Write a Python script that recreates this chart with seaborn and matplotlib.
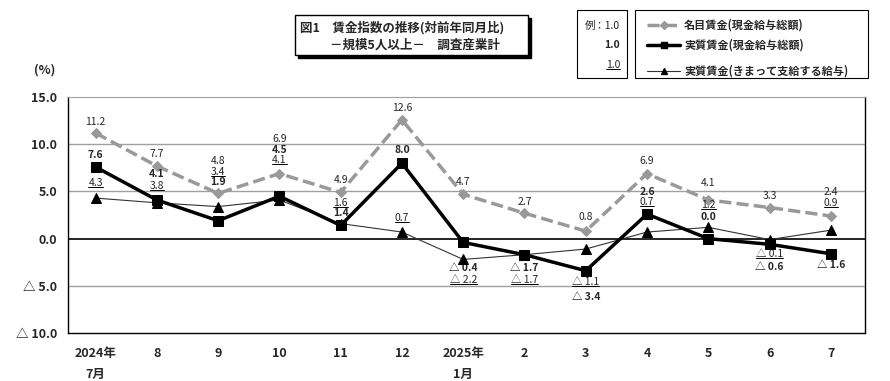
import pandas as pd
import numpy as np
import seaborn as sns
import matplotlib.pyplot as plt
from matplotlib.lines import Line2D
from matplotlib.patches import Rectangle

months = ['2024年\n7月', '8', '9', '10', '11', '12', '2025年\n1月', '2', '3', '4', '5', '6', '7']
nominal = [11.2, 7.7, 4.8, 6.9, 4.9, 12.6, 4.7, 2.7, 0.8, 6.9, 4.1, 3.3, 2.4]
real_total = [7.6, 4.1, 1.9, 4.5, 1.4, 8.0, -0.4, -1.7, -3.4, 2.6, 0.0, -0.6, -1.6]
real_sched = [4.3, 3.8, 3.4, 4.1, 1.6, 0.7, -2.2, -1.7, -1.1, 0.7, 1.2, -0.1, 0.9]
y_ticks = [15, 10, 5, 0, -5, -10]

# label offsets (pixels, + is up) so the stacked labels don't collide
off_nom = [11, 12, 32, 35, 12, 12, 12, 11, 14, 13, 17, 12, 24]
off_real = [12, 26, 39, 46, 12, 13, -26, -13, -26, 22, 22, -23, -11]
off_sched = [15, 17, 35, 40, 21, 14, -21, -25, -33, 30, 22, -14, 27]

sns.set_style('white')
plt.rcParams['font.family'] = ['Noto Sans CJK JP', 'DejaVu Sans']

df = pd.DataFrame({'x': range(len(months)), 'nominal': nominal,
                   'real_total': real_total, 'real_sched': real_sched})


def fmt(v):
    return f'{v:.1f}' if v >= 0 else '△ ' + f'{abs(v):.1f}'


fig = plt.figure(figsize=(8.9, 3.81), dpi=100)
ax = fig.add_axes([0.0764, 0.126, 0.895, 0.619])

for g in [10, 5, -5]:
    ax.axhline(g, color='#a0a0a0', lw=1, zorder=0)
ax.axhline(0, color='black', lw=1.2, zorder=1)

sns.lineplot(data=df, x='x', y='nominal', ax=ax, color='#999999', lw=2.5,
             linestyle=(0, (3.5, 1.5)), marker='D', markersize=5,
             markeredgecolor='#999999', zorder=3)
sns.lineplot(data=df, x='x', y='real_sched', ax=ax, color='#333333', lw=0.8,
             marker='^', markersize=7, markerfacecolor='black',
             markeredgecolor='black', zorder=4)
sns.lineplot(data=df, x='x', y='real_total', ax=ax, color='black', lw=2.5,
             marker='s', markersize=7, markeredgecolor='black', zorder=5)

ax.set_xlim(-0.45, 12.55)
ax.set_ylim(-10, 15)
ax.set_yticks(y_ticks)
ax.set_yticklabels([fmt(v) for v in y_ticks], fontsize=9, fontweight='bold')
ax.set_xticks(range(len(months)))
ax.set_xticklabels(months, fontsize=9, linespacing=1.8, va='top', fontweight='bold')
ax.tick_params(axis='both', length=0)
ax.tick_params(axis='y', pad=8)
ax.tick_params(axis='x', pad=10)
ax.set_xlabel('')
ax.set_ylabel('')
for s in ['left', 'bottom', 'right']:
    ax.spines[s].set_color('black')
    ax.spines[s].set_linewidth(1)
ax.spines['top'].set_color('#a0a0a0')

under = []
for i in range(len(months)):
    ax.annotate(fmt(nominal[i]), (i, nominal[i]), xytext=(0, off_nom[i]),
                textcoords='offset pixels', ha='center', va='center', fontsize=7.5)
    ax.annotate(fmt(real_total[i]), (i, real_total[i]), xytext=(0, off_real[i]),
                textcoords='offset pixels', ha='center', va='center', fontsize=7.5,
                fontweight='bold')
    t = ax.annotate(fmt(real_sched[i]), (i, real_sched[i]), xytext=(0, off_sched[i]),
                    textcoords='offset pixels', ha='center', va='center', fontsize=7.5)
    under.append(t)

fig.text(45 / 890, 1 - 70 / 381, '(%)', fontsize=9, ha='center', va='center', fontweight='bold')

# title box with shadow
bx0, by0, bw, bh = 295, 15, 233, 40
fig.add_artist(Rectangle(((bx0 + 3) / 890, 1 - (by0 + bh + 3) / 381), bw / 890, bh / 381,
                         transform=fig.transFigure, facecolor='black', edgecolor='black'))
fig.add_artist(Rectangle((bx0 / 890, 1 - (by0 + bh) / 381), bw / 890, bh / 381,
                         transform=fig.transFigure, facecolor='white', edgecolor='black', lw=1))
fig.text(300 / 890, 1 - 28 / 381, '図1　賃金指数の推移(対前年同月比)', fontsize=9,
         fontweight='bold', va='center')
fig.text(330 / 890, 1 - 45 / 381, '－規模5人以上－　調査産業計', fontsize=9,
         fontweight='bold', va='center')

# sample box
fig.add_artist(Rectangle((577 / 890, 1 - 78 / 381), 50 / 890, 68 / 381,
                         transform=fig.transFigure, facecolor='white', edgecolor='black', lw=0.8))
fig.text(620 / 890, 1 - 26 / 381, '例：1.0', fontsize=7.5, ha='right', va='center')
fig.text(620 / 890, 1 - 45 / 381, '1.0', fontsize=7.5, ha='right', va='center', fontweight='bold')
ex = fig.text(620 / 890, 1 - 65 / 381, '1.0', fontsize=7.5, ha='right', va='center')
under.append(ex)

# legend box
fig.add_artist(Rectangle((635 / 890, 1 - 78 / 381), 233 / 890, 68 / 381,
                         transform=fig.transFigure, facecolor='white', edgecolor='black', lw=0.8))
leg_rows = [
    ('名目賃金(現金給与総額)', dict(color='#999999', lw=2.5, linestyle=(0, (3.5, 1.5)), marker='D',
                                   markersize=4, markeredgecolor='#999999'), 25),
    ('実質賃金(現金給与総額)', dict(color='black', lw=2.5, marker='s', markersize=5), 45),
    ('実質賃金(きまって支給する給与)', dict(color='#333333', lw=0.8, marker='^', markersize=5,
                                       markerfacecolor='black', markeredgecolor='black'), 71),
]
for label, kw, yy in leg_rows:
    fig.add_artist(Line2D([647 / 890, 664 / 890, 680 / 890], [1 - yy / 381] * 3,
                          transform=fig.transFigure, markevery=[1], **kw))
    fig.text(684 / 890, 1 - yy / 381, label, fontsize=8, fontweight='bold', va='center')

# underline the scheduled-pay labels
fig.canvas.draw()
renderer = fig.canvas.get_renderer()
inv = fig.transFigure.inverted()
for t in under:
    bb = t.get_window_extent(renderer)
    (x0, y0), (x1, _) = inv.transform([(bb.x0, bb.y0 + 1), (bb.x1, bb.y0 + 1)])
    fig.add_artist(Line2D([x0, x1], [y0, y0], transform=fig.transFigure, color='black', lw=0.7))

fig.savefig('out.png', dpi=100)
